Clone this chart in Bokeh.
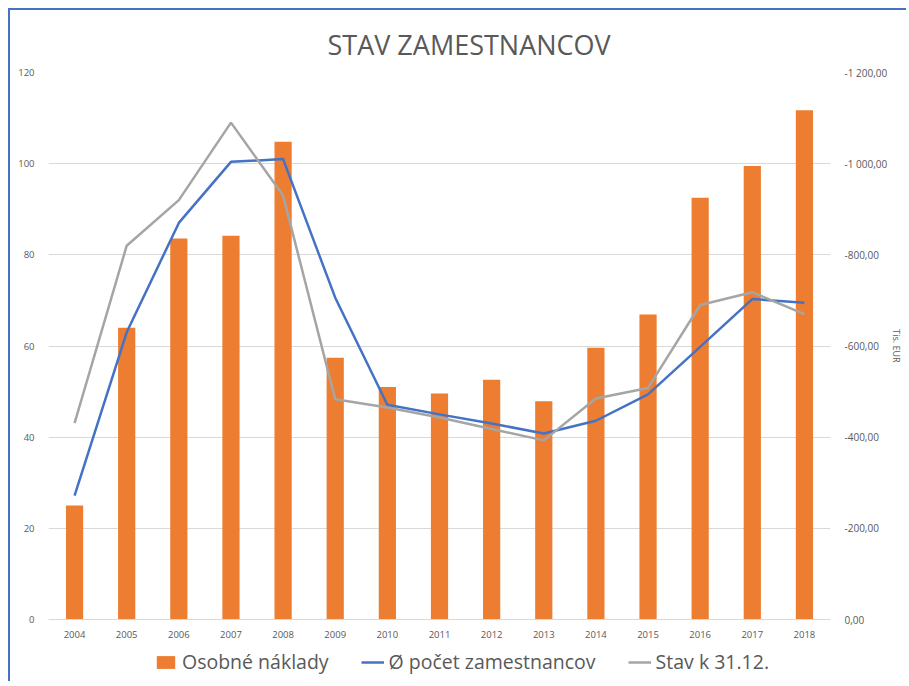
from bokeh.plotting import figure
from bokeh.layouts import column
from bokeh.models import (Range1d, LinearAxis, Legend, LegendItem, CustomJSTickFormatter,
                          FactorRange, FixedTicker, ColumnDataSource)
from bokeh.embed import file_html
from bokeh.resources import INLINE

years = [str(y) for y in range(2004, 2019)]
osobne_naklady = [-250, -640, -836, -842, -1048, -574, -510, -496, -526, -479,
                  -596, -669, -925, -995, -1117]
priemerny_pocet = [27.2, 63.0, 87.0, 100.4, 101.0, 70.6, 47.1, 45.0, 43.0, 40.8,
                   43.6, 49.4, 59.8, 70.3, 69.5]
stav_k_3112 = [43.1, 82.0, 92.0, 109.0, 93.0, 48.3, 46.5, 44.3, 41.8, 39.3,
               48.5, 50.8, 69.0, 71.8, 67.0]
left_ticks = [0, 20, 40, 60, 80, 100, 120]
right_ticks = [0, -200, -400, -600, -800, -1000, -1200]
series_names = ["Osobné náklady", "Ø počet zamestnancov", "Stav k 31.12."]

FONT = "Open Sans"
TXT = "#595959"
ORANGE, BLUE, GREY = "#ED7D31", "#4472C4", "#A5A5A5"

src = ColumnDataSource(dict(x=years, bars=osobne_naklady, avg=priemerny_pocet, stav=stav_k_3112))

p = figure(frame_width=782, frame_height=547, x_range=FactorRange(*years, range_padding=0),
           y_range=Range1d(0, 120), output_backend="svg", toolbar_location=None,
           min_border_left=38, min_border_right=62, min_border_top=62, min_border_bottom=26)

p.title.text = "STAV ZAMESTNANCOV"
p.title.align = "left"
p.title.offset = 279
p.title.standoff = 20
p.title.text_font = FONT
p.title.text_font_style = "normal"
p.title.text_font_size = "27px"
p.title.text_color = TXT

p.extra_y_ranges = {"right": Range1d(0, -1200)}

p.outline_line_color = None
p.background_fill_color = "white"
p.border_fill_color = "white"
p.xgrid.grid_line_color = None
p.ygrid.grid_line_color = "#D9D9D9"
p.ygrid.ticker = FixedTicker(ticks=left_ticks)

p.vbar(x="x", top="bars", bottom=0, width=0.33, source=src, y_range_name="right",
       fill_color=ORANGE, line_color=None)
p.line(x="x", y="avg", source=src, line_color=BLUE, line_width=2.5)
p.line(x="x", y="stav", source=src, line_color=GREY, line_width=2.5)

ya = p.yaxis[0]
ya.ticker = FixedTicker(ticks=left_ticks)
ya.axis_line_color = None
ya.major_tick_line_color = None
ya.minor_tick_line_color = None
ya.major_label_text_font = FONT
ya.major_label_text_font_size = "9.5px"
ya.major_label_text_color = TXT
ya.major_label_standoff = 8

xa = p.xaxis[0]
xa.axis_line_color = "#D9D9D9"
xa.major_tick_line_color = None
xa.minor_tick_line_color = None
xa.major_label_text_font = FONT
xa.major_label_text_font_size = "9.5px"
xa.major_label_text_color = TXT
xa.major_label_standoff = 5

fmt = CustomJSTickFormatter(code="""
if (Math.abs(tick) < 1e-9) { return "0,00"; }
const s = Math.abs(tick).toFixed(2).split(".");
const ip = s[0].replace(/\\B(?=(\\d{3})+(?!\\d))/g, " ");
return (tick < 0 ? "-" : "") + ip + "," + s[1];
""")
ra = LinearAxis(y_range_name="right", ticker=FixedTicker(ticks=right_ticks), formatter=fmt,
                axis_label="Tis. EUR")
ra.axis_line_color = None
ra.major_tick_line_color = None
ra.minor_tick_line_color = None
ra.major_label_text_font = FONT
ra.major_label_text_font_size = "10px"
ra.major_label_text_color = TXT
ra.major_label_standoff = 8
ra.axis_label_text_font = FONT
ra.axis_label_text_font_size = "9px"
ra.axis_label_text_font_style = "normal"
ra.axis_label_text_color = TXT
ra.axis_label_standoff = 0
p.add_layout(ra, "right")

# legend strip (off-range placeholder marks only provide the legend swatches)
lg = figure(width=890, height=36, x_range=Range1d(0, 1), y_range=Range1d(0, 1),
            output_backend="svg", toolbar_location=None, x_axis_type=None, y_axis_type=None,
            min_border=0)
lg.outline_line_color = None
lg.xgrid.grid_line_color = None
lg.ygrid.grid_line_color = None
swatch = ColumnDataSource(dict(x=[-10, -9], y=[-10, -10]))
r0 = lg.vbar(x="x", top="y", width=0.1, source=swatch, fill_color=ORANGE, line_color=None)
r1 = lg.line(x="x", y="y", source=swatch, line_color=BLUE, line_width=2.5)
r2 = lg.line(x="x", y="y", source=swatch, line_color=GREY, line_width=2.5)
legend = Legend(items=[LegendItem(label=series_names[0], renderers=[r0], index=0),
                       LegendItem(label=series_names[1], renderers=[r1]),
                       LegendItem(label=series_names[2], renderers=[r2])],
                orientation="horizontal", location=(106, 6))
legend.label_text_font = FONT
legend.label_text_font_size = "19.5px"
legend.label_text_color = TXT
legend.border_line_color = None
legend.background_fill_alpha = 0
legend.glyph_width = 23
legend.glyph_height = 16
legend.spacing = 32
legend.label_standoff = 5
legend.padding = 2
legend.margin = 0
lg.add_layout(legend, "center")

layout = column(p, lg, spacing=0)
layout.styles = {"border-left": "2px solid #4472C4", "border-top": "2px solid #4472C4",
                 "margin-left": "8px", "margin-top": "8px"}

open("out.html", "w").write(file_html(layout, INLINE))
